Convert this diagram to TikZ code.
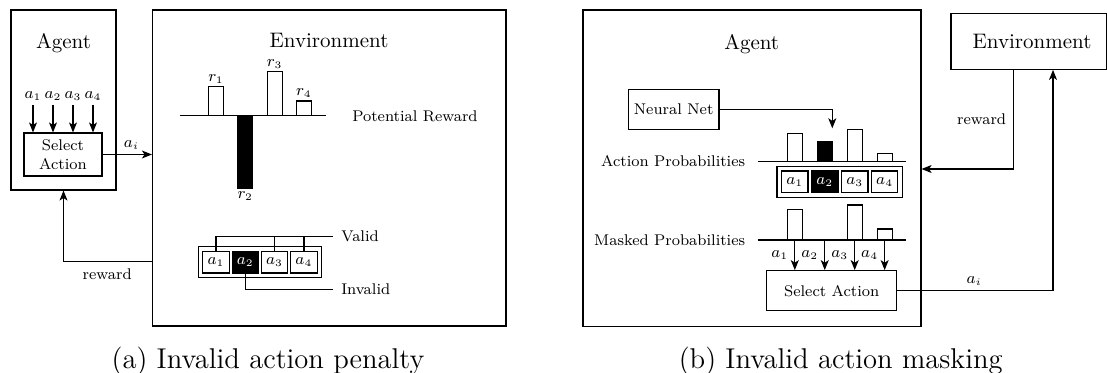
\documentclass[tikz,border=0pt]{standalone}
\usetikzlibrary{arrows.meta,calc,fit}
\begin{document}
\begin{tikzpicture}[x=0.5pt,y=-0.5pt,
  line width=0.6pt,
  big/.style={font=\fontsize{10.5}{12.6}\selectfont},
  small/.style={font=\fontsize{7.75}{9.7}\selectfont},
  captext/.style={font=\fontsize{14.3}{17}\selectfont},
  box/.style={draw, rectangle, inner sep=0pt},
  arr/.style={-{Stealth[length=5pt,width=4pt,inset=1.3pt]}},
  cell/.style={draw, small, minimum width=13.2pt, minimum height=10.8pt, inner sep=0pt},
  blk/.style={cell, fill=black, text=white},
  wbar/.style={draw, fill=white},
  bbar/.style={draw, fill=black},
  tag/.style={small, anchor=base west, inner xsep=3.7pt, inner ysep=0pt},
  plain/.style={small, inner sep=0pt},
]
\useasboundingbox (0,0) rectangle (1107,373);

% ---------------- (a) penalty ----------------
\node[box, minimum width=52.5pt, minimum height=90pt] (agA) at (63.5,100) {};
\node[big, anchor=base] (agAt) at (63.5,48.3) {Agent};
\node[box, small, align=center, minimum width=39pt, minimum height=21.5pt] (selA) at (63,154.5) {Select\\Action};
\foreach \i/\x in {1/33,2/53,3/73,4/93} {
  \node[small, anchor=base, inner sep=1.5pt] (inA\i) at (\x,99) {$a_\i$};
  \draw[arr] (inA\i.south) -- (inA\i.south |- selA.north);
}

\node[box, minimum width=176.75pt, minimum height=158pt] (envA) at (329.25,168) {};
\node[big, anchor=base] (envAt) at (329,48) {Environment};

\draw[arr] (selA.east) -- (selA.east -| envA.west);
\node[small, anchor=base] (aiA) at (131.5,148) {$a_i$};

% potential reward chart
\coordinate (axA0) at (180,115.7);
\coordinate (axA1) at (325.7,115.7);
\draw (axA0) -- (axA1);

% action array
\foreach \i in {1,3,4} {
  \node[cell] (ca\i) at ({216+29.3*(\i-1)},262.3) {$a_\i$};
}
\node[blk] (ca2) at (245.3,262.3) {$a_2$};
\node[draw, fit=(ca1)(ca4), inner sep=2pt] (arrA) {};

\draw[wbar] ($(ca1 |- axA0)+(-7.5,0)$) rectangle ++(15,-29);
\draw[bbar] ($(ca2 |- axA0)+(-7.5,0)$) rectangle ++(15,72.3);
\draw[wbar] ($(ca3 |- axA0)+(-7.5,0)$) rectangle ++(15,-44);
\draw[wbar] ($(ca4 |- axA0)+(-7.5,0)$) rectangle ++(15,-14.7);
\node[small, anchor=south, inner sep=1.5pt] (r1) at ($(ca1 |- axA0)+(0,-29)$) {$r_1$};
\node[small, anchor=north, inner sep=1.5pt] (r2) at ($(ca2 |- axA0)+(0,72.3)$) {$r_2$};
\node[small, anchor=south, inner sep=1.5pt] (r3) at ($(ca3 |- axA0)+(0,-44)$) {$r_3$};
\node[small, anchor=south, inner sep=1.5pt] (r4) at ($(ca4 |- axA0)+(0,-14.7)$) {$r_4$};
\node[plain, anchor=base west] (potrew) at (351.7,121.5) {Potential Reward};

\node[tag] (validt) at (333.3,241.5) {Valid};
\node[tag] (invalidt) at (333.3,294.5) {Invalid};
\draw (ca1.north) |- (validt.west);
\draw (ca3.north) |- (validt.west);
\draw (ca4.north) |- (validt.west);
\draw (ca2.south) |- (invalidt.west);

\coordinate (rwA) at (152.5,261.7);
\draw[arr] (envA.west |- rwA) -| (agA.south);
\node[small, anchor=base] (rwAt) at (107.2,280) {reward};

% ---------------- (b) masking ----------------
\node[box, minimum width=169pt, minimum height=158.25pt] (agB) at (752,168.25) {};
\node[big, anchor=base] (agBt) at (751.7,49.5) {Agent};
\node[box, minimum width=77.75pt, minimum height=28pt] (envB) at (1028.75,41.3) {};
\node[big] (envBt) at (1032,41.3) {Environment};

\node[box, small, minimum width=45.35pt, minimum height=20pt] (nn) at (673.65,109.3) {Neural Net};
\coordinate (nnEnd) at (832.3,128.3);
\draw[arr] (nn.east) -| (nnEnd);

% action probabilities
\coordinate (apL) at (757.7,161.3);
\coordinate (apR) at (906,161.3);
\draw (apL) -- (apR);
\foreach \i in {1,3,4} {
  \node[cell] (cb\i) at ({794.8+29.95*(\i-1)},181.8) {$a_\i$};
}
\node[blk] (cb2) at (824.75,181.8) {$a_2$};
\node[draw, fit=(cb1)(cb4), inner sep=2pt] (arrB) {};
\draw[wbar] ($(cb1 |- apL)+(-7.5,0)$) rectangle ++(15,-28);
\draw[bbar] ($(cb2 |- apL)+(-7.5,0)$) rectangle ++(15,-20);
\draw[wbar] ($(cb3 |- apL)+(-7.5,0)$) rectangle ++(15,-32);
\draw[wbar] ($(cb4 |- apL)+(-7.5,0)$) rectangle ++(15,-8);
\node[plain, anchor=base east] (aplab) at (745.7,167) {Action Probabilities};

% masked probabilities
\coordinate (mpL) at (757.7,240);
\coordinate (mpR) at (906,240);
\draw (mpL) -- (mpR);
\draw[wbar] ($(cb1 |- mpL)+(-7.5,0)$) rectangle ++(15,-30.7);
\draw[bbar] ($(cb2 |- mpL)+(-7.5,0)$) rectangle ++(15,-0.8);
\draw[wbar] ($(cb3 |- mpL)+(-7.5,0)$) rectangle ++(15,-35);
\draw[wbar] ($(cb4 |- mpL)+(-7.5,0)$) rectangle ++(15,-11);
\node[plain, anchor=base east] (mplab) at (745.7,246) {Masked Probabilities};

\node[box, small, minimum width=65pt, minimum height=20pt] (selB) at (831.7,290.7) {Select Action};
\foreach \i in {1,2,3,4} {
  \draw[arr] (cb\i |- mpL) -- (cb\i |- selB.north)
    node[midway, left, small, inner sep=3pt] (lb\i) {$a_\i$};
}

\coordinate (aiB) at (1053,290.7);
\draw[arr] (selB.east) -| (envB.south -| aiB);
\node[small, anchor=base] (aiBt) at (974.3,283.3) {$a_i$};

\coordinate (rwB) at (1013.3,169);
\draw[arr] (envB.south -| rwB) |- (agB.east |- rwB);
\node[plain, anchor=base east] (rwBt) at (1006.7,125) {reward};

% captions
\node[captext, anchor=base] (capa) at (268,368.3) {(a) Invalid action penalty};
\node[captext, anchor=base] (capb) at (840.7,368.3) {(b) Invalid action masking};
\end{tikzpicture}
\end{document}
